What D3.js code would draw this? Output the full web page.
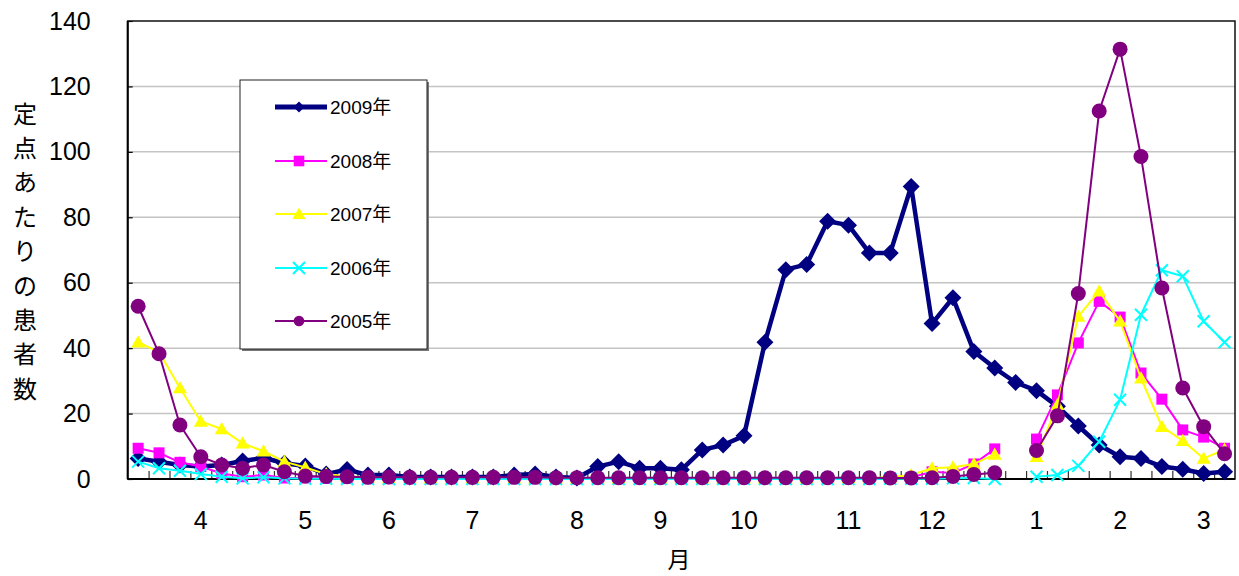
<!DOCTYPE html>
<html><head><meta charset="utf-8">
<script src="https://cdn.jsdelivr.net/npm/d3@7"></script>
<style>body{margin:0;background:#fff}svg{display:block}</style>
</head><body><svg id="c" width="1239" height="576"></svg>
<script>
// Categories: surveillance weeks (week 11 .. week 53, then week 1 .. week 10)
const weekNo = [11,12,13,14,15,16,17,18,19,20,21,22,23,24,25,26,27,28,29,30,
  31,32,33,34,35,36,37,38,39,40,41,42,43,44,45,46,47,48,49,50,51,52,53,
  1,2,3,4,5,6,7,8,9,10];
// Month tick labels and the week at which each is shown
const monthTickWeeks = [14,19,23,27,32,36,40,45,49,1,5,9];
const monthTickLabels = ["4","5","6","7","8","9","10","11","12","1","2","3"];
const yTickValues = [0,20,40,60,80,100,120,140];

const y2009 = [6.3, 5.3, 4.3, 3.8, 4.3, 5.5, 6.5, 4.8, 4.0, 1.5,
  2.9, 1.2, 1.2, 0.6, 0.6, 0.6, 0.6, 0.6, 1.2, 1.5,
  0.6, 0.3, 3.8, 5.3, 3.3, 3.3, 2.8, 8.9, 10.4, 13.2,
  41.8, 64.0, 65.6, 78.8, 77.6, 69.1, 69.1, 89.4, 47.5, 55.4,
  39.0, 33.9, 29.5, 27.0, 22.2, 16.2, 10.4, 6.8, 6.3, 3.8,
  3.0, 1.7, 2.2];
const y2008 = [9.4, 8.0, 5.1, 3.8, 1.7, 0.7, 1.2, 0.3, 0.3, 0.2,
  0.2, 0.2, 0.1, 0.1, 0.1, 0.1, 0.1, 0.1, 0.1, 0.1,
  0.1, 0.1, 0.1, 0.1, 0.1, 0.1, 0.1, 0.1, 0.1, 0.1,
  0.1, 0.1, 0.1, 0.2, 0.2, 0.2, 0.3, 0.5, 2.2, 1.8,
  4.6, 9.2, null, 12.2, 25.7, 41.6, 54.3, 49.5, 32.4, 24.4,
  15.0, 12.8, 9.4];
const y2007 = [41.8, 38.8, 27.8, 17.6, 15.3, 10.9, 8.5, 5.3, 3.5, 1.5,
  0.8, 0.5, 0.3, 0.3, 0.2, 0.2, 0.2, 0.2, 0.2, 0.2,
  0.2, 0.2, 0.2, 0.2, 0.2, 0.2, 0.2, 0.2, 0.2, 0.2,
  0.2, 0.2, 0.2, 0.2, 0.3, 0.3, 0.5, 1.2, 3.3, 3.6,
  4.6, 7.5, null, 6.8, 22.7, 49.7, 57.4, 48.2, 30.8, 16.0,
  11.7, 6.3, 9.0];
const y2006 = [5.3, 3.3, 2.5, 1.5, 0.7, 0.2, 0.5, 0.2, 0.1, 0.1,
  0.0, 0.0, 0.0, 0.0, 0.0, 0.0, 0.0, 0.0, 0.0, 0.0,
  0.0, 0.0, 0.0, 0.0, 0.0, 0.0, 0.0, 0.0, 0.0, 0.0,
  0.0, 0.0, 0.0, 0.0, 0.0, 0.0, 0.1, 0.1, 0.1, 0.2,
  0.3, 0.0, null, 0.7, 1.2, 4.0, 11.4, 24.2, 50.2, 63.8,
  62.0, 48.2, 41.8];
const y2005 = [52.8, 38.3, 16.5, 6.8, 4.3, 3.3, 4.3, 2.2, 0.9, 0.8,
  0.7, 0.5, 0.6, 0.5, 0.5, 0.5, 0.5, 0.5, 0.5, 0.5,
  0.4, 0.4, 0.4, 0.4, 0.4, 0.4, 0.4, 0.4, 0.4, 0.4,
  0.4, 0.4, 0.4, 0.4, 0.4, 0.4, 0.3, 0.3, 0.4, 0.8,
  1.4, 1.9, null, 8.7, 19.3, 56.7, 112.5, 131.4, 98.6, 58.4,
  27.8, 16.0, 7.7];

const seriesNames = ["2009年","2008年","2007年","2006年","2005年"];

const series = [
  {name: seriesNames[0], values: y2009, color: "#000080", width: 4.5, marker: "diamond"},
  {name: seriesNames[1], values: y2008, color: "#FF00FF", width: 2, marker: "square"},
  {name: seriesNames[2], values: y2007, color: "#FFFF00", width: 2, marker: "triangle"},
  {name: seriesNames[3], values: y2006, color: "#00FFFF", width: 2, marker: "x"},
  {name: seriesNames[4], values: y2005, color: "#800080", width: 2, marker: "circle"}
];

const svg = d3.select("#c");
const x0 = 127.7, x1 = 1235, yTop = 21, yBot = 479;
const FONT = "'Liberation Sans', Arial, 'Noto Sans CJK JP', sans-serif";

const x = d3.scaleBand().domain(weekNo).range([x0, x1]).padding(0);
const cx = w => x(w) + x.bandwidth() / 2;
const y = d3.scaleLinear().domain([0, 140]).range([yBot, yTop]);

// gridlines
svg.append("g").selectAll("line").data(yTickValues.filter(v => v > 0 && v < 140)).join("line")
  .attr("x1", x0).attr("x2", x1).attr("y1", d => y(d)).attr("y2", d => y(d))
  .attr("stroke", "#c4c4c4").attr("stroke-width", 1.5);

// y axis
const ya = svg.append("g").attr("transform", `translate(${x0},0)`)
  .call(d3.axisLeft(y).tickValues(yTickValues).tickSizeInner(-5).tickSizeOuter(0).tickPadding(37));
ya.select(".domain").remove();
ya.selectAll("line").attr("stroke", "#000").attr("stroke-width", 1.2);
ya.selectAll("text").attr("font-family", FONT).attr("font-size", 25).attr("fill", "#000");

// x axis: tick marks between weeks (inside)
const xb = d3.scaleLinear().domain([0, weekNo.length]).range([x0, x1]);
const xt = svg.append("g").attr("transform", `translate(0,${yBot})`)
  .call(d3.axisBottom(xb).tickValues(d3.range(1, weekNo.length)).tickSize(-8).tickFormat(""));
xt.select(".domain").remove();
xt.selectAll("line").attr("stroke", "#333").attr("stroke-width", 1.2);

// x axis month labels
const xl = svg.append("g").attr("transform", `translate(0,${yBot})`)
  .call(d3.axisBottom(x).tickValues(monthTickWeeks).tickSize(0).tickPadding(32)
    .tickFormat(w => monthTickLabels[monthTickWeeks.indexOf(w)]));
xl.select(".domain").remove();
xl.selectAll("text").attr("font-family", FONT).attr("font-size", 25).attr("fill", "#000");

// frame
svg.append("rect").attr("x", x0).attr("y", yTop).attr("width", x1 - x0).attr("height", yBot - yTop)
  .attr("fill", "none").attr("stroke", "#111").attr("stroke-width", 1.5);
svg.append("line").attr("x1", x0).attr("x2", x1).attr("y1", yBot).attr("y2", yBot)
  .attr("stroke", "#000").attr("stroke-width", 2);
svg.append("line").attr("x1", x0).attr("x2", x0).attr("y1", yTop).attr("y2", yBot)
  .attr("stroke", "#000").attr("stroke-width", 2);

// markers
function markerPath(type, s) {
  switch (type) {
    case "diamond": return `M0,${-s}L${s},0L0,${s}L${-s},0Z`;
    case "square": return `M${-s},${-s}H${s}V${s}H${-s}Z`;
    case "triangle": return `M0,${-s}L${s},${s*0.75}L${-s},${s*0.75}Z`;
    case "x": return `M${-s},${-s}L${s},${s}M${s},${-s}L${-s},${s}`;
    case "circle": return `M${s},0A${s},${s} 0 1,1 ${-s},0A${s},${s} 0 1,1 ${s},0Z`;
  }
}
const chartMarkerSize = {diamond: 8.5, square: 5.5, triangle: 7, x: 6, circle: 7.5};
const legendMarkerSize = {diamond: 5.5, square: 5.3, triangle: 6.5, x: 6, circle: 5.3};

function drawMarkers(g, s, pts, sizeMap) {
  const isX = s.marker === "x";
  g.selectAll("path.m").data(pts).join("path").attr("class", "m")
    .attr("transform", d => `translate(${d[0]},${d[1]})`)
    .attr("d", markerPath(s.marker, sizeMap[s.marker]))
    .attr("fill", isX ? "none" : s.color)
    .attr("stroke", isX ? s.color : "none")
    .attr("stroke-width", isX ? 2 : 0);
}

const line = d3.line().defined(d => d.v != null).x(d => cx(d.w)).y(d => y(d.v));
series.forEach(s => {
  const data = weekNo.map((w, i) => ({w, v: s.values[i]}));
  const g = svg.append("g");
  g.append("path").datum(data).attr("d", line).attr("fill", "none")
    .attr("stroke", s.color).attr("stroke-width", s.width).attr("stroke-linejoin", "round");
  drawMarkers(g, s, data.filter(d => d.v != null).map(d => [cx(d.w), y(d.v)]), chartMarkerSize);
});

// legend
const lg = svg.append("g");
lg.append("rect").attr("x", 242).attr("y", 82).attr("width", 187).attr("height", 269).attr("fill", "#777");
lg.append("rect").attr("x", 240).attr("y", 80).attr("width", 187).attr("height", 269)
  .attr("fill", "#fff").attr("stroke", "#222").attr("stroke-width", 1);
const rowY = [107, 161, 214, 268, 321];
series.forEach((s, i) => {
  const g = lg.append("g");
  g.append("line").attr("x1", 275).attr("x2", 327).attr("y1", rowY[i]).attr("y2", rowY[i])
    .attr("stroke", s.color).attr("stroke-width", i === 0 ? 5 : 2);
  drawMarkers(g, s, [[299, rowY[i]]], legendMarkerSize);
  g.append("text").attr("x", 330).attr("y", rowY[i]).attr("dominant-baseline", "central")
    .attr("font-family", FONT).attr("font-size", 19).attr("fill", "#000").text(s.name);
});

// y axis title (vertical, one character per line)
const yTitle = "定点あたりの患者数";
svg.append("g").selectAll("text").data(Array.from(yTitle)).join("text")
  .attr("x", 25).attr("y", (d, i) => 112 + i * 34.4)
  .attr("text-anchor", "middle").attr("dominant-baseline", "central")
  .attr("font-family", "'Noto Sans CJK JP', sans-serif").attr("font-size", 24).attr("fill", "#000")
  .text(d => d);

// x axis title
svg.append("text").attr("x", 679).attr("y", 558).attr("text-anchor", "middle")
  .attr("dominant-baseline", "central").attr("font-family", "'Noto Sans CJK JP', sans-serif")
  .attr("font-size", 23).attr("fill", "#000").text("月");
</script></body></html>
